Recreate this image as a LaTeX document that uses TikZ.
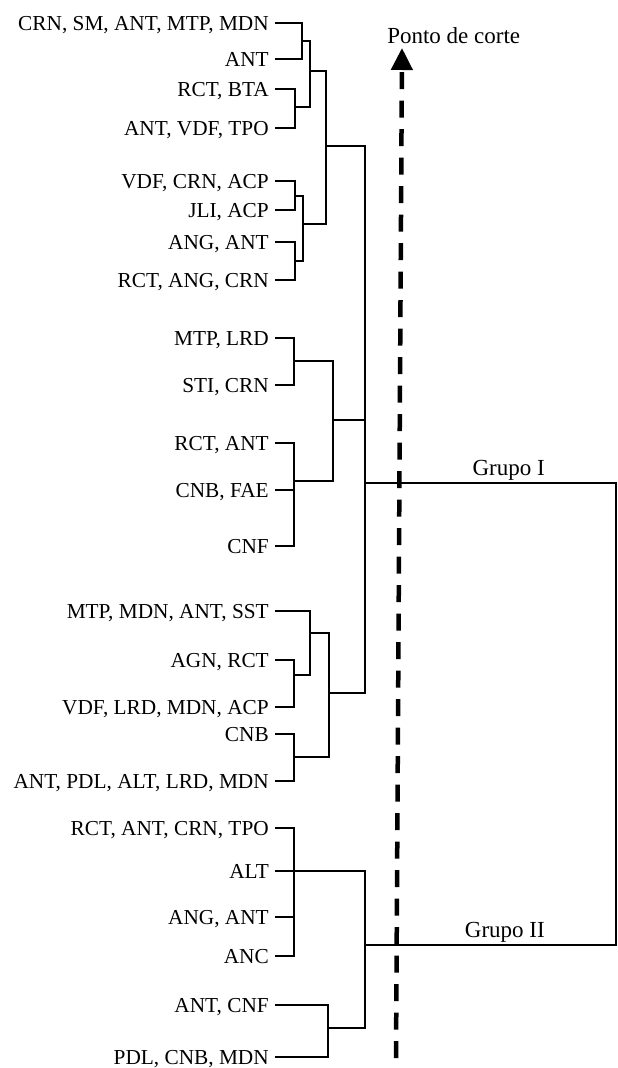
\documentclass[tikz,border=0pt]{standalone}
\usepackage{fontspec}
\setmainfont{Liberation Serif}
\usetikzlibrary{arrows.meta}
\begin{document}
\begin{tikzpicture}[x=1pt, y=-1pt, line width=2.5pt,
  leaf/.style={anchor=east, inner xsep=5pt, inner ysep=0pt, text height=14.2pt, text depth=0pt, font=\fontsize{21.3}{25}\selectfont},
  group/.style={anchor=base east, inner sep=0pt, font=\fontsize{23}{27}\selectfont},
  cut/.style={line width=4.5pt, dash pattern=on 17pt off 11.5pt, -{Triangle[width=21pt,length=22pt]}}]
\useasboundingbox (0,0) rectangle (618,1068);

\node[leaf] (l1) at (275,23) {CRN, SM, ANT, MTP, MDN};
\node[leaf] (l2) at (275,59) {ANT};
\node[leaf] (l3) at (275,89) {RCT, BTA};
\node[leaf] (l4) at (275,128) {ANT, VDF, TPO};
\node[leaf] (l5) at (275,181) {VDF, CRN, ACP};
\node[leaf] (l6) at (275,210) {JLI, ACP};
\node[leaf] (l7) at (275,242) {ANG, ANT};
\node[leaf] (l8) at (275,280) {RCT, ANG, CRN};
\node[leaf] (l9) at (275,338) {MTP, LRD};
\node[leaf] (l10) at (275,385) {STI, CRN};
\node[leaf] (l11) at (275,443) {RCT, ANT};
\node[leaf] (l12) at (275,490) {CNB, FAE};
\node[leaf] (l13) at (275,546) {CNF};
\node[leaf] (l14) at (275,611) {MTP, MDN, ANT, SST};
\node[leaf] (l15) at (275,660) {AGN, RCT};
\node[leaf] (l16) at (275,707) {VDF, LRD, MDN, ACP};
\node[leaf] (l17) at (275,734) {CNB};
\node[leaf] (l18) at (275,781) {ANT, PDL, ALT, LRD, MDN};
\node[leaf] (l19) at (275,828) {RCT, ANT, CRN, TPO};
\node[leaf] (l20) at (275,871) {ALT};
\node[leaf] (l21) at (275,917) {ANG, ANT};
\node[leaf] (l22) at (275,956) {ANC};
\node[leaf] (l23) at (275,1005) {ANT, CNF};
\node[leaf] (l24) at (275,1057) {PDL, CNB, MDN};

\coordinate (c1) at (302,41);
\coordinate (c2) at (295,107);
\coordinate (c3) at (310,71);
\coordinate (c4) at (295,196);
\coordinate (c5) at (295,261);
\coordinate (c6) at (303,224);
\coordinate (c7) at (326,146);
\coordinate (c8) at (294,361);
\coordinate (c9) at (294,481);
\coordinate (c10) at (333,420);
\coordinate (c11) at (294,675);
\coordinate (c12) at (310,633);
\coordinate (c13) at (294,757);
\coordinate (c14) at (329,693);
\coordinate (c15) at (365,483);
\coordinate (c16) at (294,871);
\coordinate (c17) at (328,1028);
\coordinate (c18) at (365,945);
\coordinate (g1) at (616,483);
\coordinate (g2) at (616,945);

\draw (l1.east) -| (c1) |- (l2.east);
\draw (l3.east) -| (c2) |- (l4.east);
\draw (c1) -| (c3) |- (c2);
\draw (l5.east) -| (c4) |- (l6.east);
\draw (l7.east) -| (c5) |- (l8.east);
\draw (c4) -| (c6) |- (c5);
\draw (c3) -| (c7) |- (c6);
\draw (l9.east) -| (c8) |- (l10.east);
\draw (l11.east) -| (c9) |- (l13.east);
\draw (l12.east) -- (l12.east -| c9);
\draw (c8) -| (c10) |- (c9);
\draw (l15.east) -| (c11) |- (l16.east);
\draw (l14.east) -| (c12) |- (c11);
\draw (l17.east) -| (c13) |- (l18.east);
\draw (c12) -| (c14) |- (c13);
\draw (c7) -| (c15) |- (c14);
\draw (c10) -- (c10 -| c15);
\draw (l19.east) -| (c16) |- (l22.east);
\draw (l21.east) -- (l21.east -| c16);
\draw (l20.east) -- (c16);
\draw (l23.east) -| (c17) |- (l24.east);
\draw (c16) -| (c18) |- (c17);
\draw (c15) -- (g1) -- (g2) -- (c18);

\node[group] (grp1) at (546,475) {Grupo I};
\node[group] (grp2) at (546,937) {Grupo II};

\coordinate (cutlow) at (396,1058);
\coordinate (cuttop) at (402,48);
\draw[cut] (cutlow) -- (cuttop);
\node[group, anchor=base west] (cutlabel) at (386,43) {Ponto de corte};
\end{tikzpicture}
\end{document}
